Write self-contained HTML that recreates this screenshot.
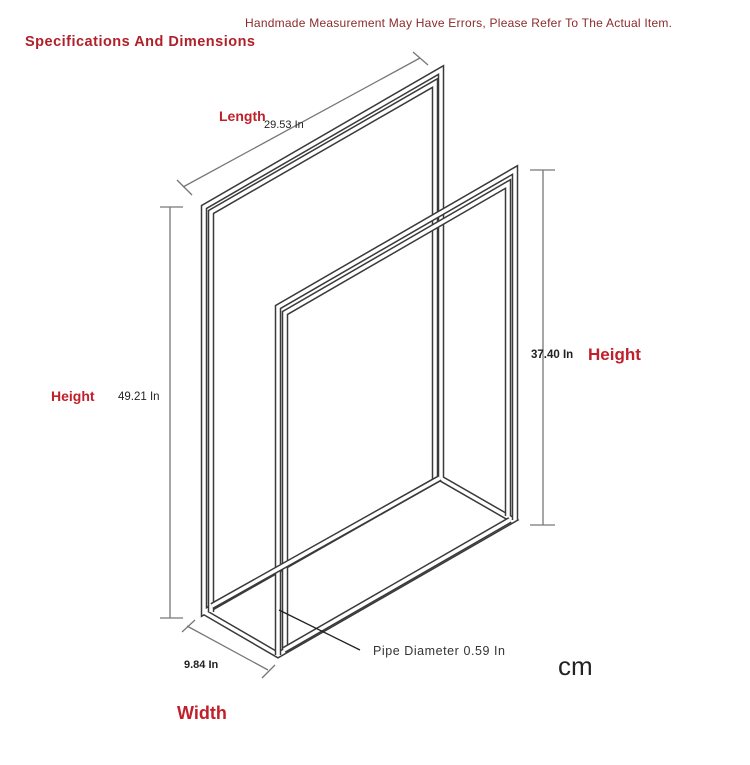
<!DOCTYPE html>
<html><head><style>
body{margin:0;width:750px;height:765px;background:#fff;overflow:hidden;font-family:"Liberation Sans",sans-serif}
</style></head><body>
<svg width="750" height="765" xmlns="http://www.w3.org/2000/svg" style="position:absolute;left:0;top:0">
<g fill="none" stroke-linejoin="miter">
 <g stroke="#3a3a3a" stroke-width="6.5">
  <polyline points="204,612 278,655 513,520 440,478 204,612 204,207 441,70 441,478"/>
 </g>
 <g stroke="#fff" stroke-width="3.5">
  <polyline points="204,612 278,655 513,520 440,478 204,612 204,207 441,70 441,478"/>
 </g>
 <g stroke="#3a3a3a" stroke-width="6.5">
  <polyline points="211,612 211,212 435,83 435,480"/>
 </g>
 <g stroke="#fff" stroke-width="3.5">
  <polyline points="211,612 211,212 435,83 435,480"/>
 </g>
 <g stroke="#3a3a3a" stroke-width="6.5">
  <polyline points="278,655 278,307 515,170 515,520"/>
 </g>
 <g stroke="#fff" stroke-width="3.5">
  <polyline points="278,655 278,307 515,170 515,520"/>
 </g>
 <g stroke="#3a3a3a" stroke-width="6.5">
  <polyline points="285,650 285,313 508,184 508,516"/>
 </g>
 <g stroke="#fff" stroke-width="3.5">
  <polyline points="285,650 285,313 508,184 508,516"/>
 </g>
 <g stroke="#3a3a3a" stroke-width="6.5">
  <polyline points="212,606 440,478"/>
  <polyline points="284,650 510,520"/>
 </g>
 <g stroke="#fff" stroke-width="3.5">
  <polyline points="212,606 440,478"/>
  <polyline points="284,650 510,520"/>
 </g>
 <g stroke="#777" stroke-width="1.3">
  <line x1="170" y1="207" x2="170" y2="618"/>
  <line x1="160" y1="207" x2="183" y2="207"/>
  <line x1="160" y1="618" x2="183" y2="618"/>
  <line x1="543" y1="170" x2="543" y2="525"/>
  <line x1="530" y1="170" x2="555" y2="170"/>
  <line x1="530" y1="525" x2="555" y2="525"/>
  <line x1="183" y1="187" x2="420" y2="58"/>
  <line x1="177" y1="180" x2="192" y2="195"/>
  <line x1="413" y1="52" x2="428" y2="65"/>
  <line x1="187" y1="626" x2="268" y2="670"/>
  <line x1="182" y1="632" x2="195" y2="620"/>
  <line x1="262" y1="678" x2="275" y2="665"/>
 </g>
 <line x1="279" y1="610" x2="360" y2="650" stroke="#222" stroke-width="1.3"/>
</g>
<g font-family="Liberation Sans, sans-serif">
 <text x="245" y="27" font-size="12" fill="#8b2a2a" textLength="427">Handmade Measurement May Have Errors, Please Refer To The Actual Item.</text>
 <text x="25" y="46" font-size="14.5" font-weight="bold" fill="#b0202a" textLength="230">Specifications And Dimensions</text>
 <text x="219" y="121" font-size="14" font-weight="bold" fill="#c0202a">Length</text>
 <text x="264" y="128" font-size="11" fill="#222">29.53 In</text>
 <text x="51" y="401" font-size="14" font-weight="bold" fill="#c0202a">Height</text>
 <text x="118" y="400" font-size="11.5" fill="#222">49.21 In</text>
 <text x="531" y="358" font-size="11.5" font-weight="bold" fill="#222">37.40 In</text>
 <text x="588" y="360" font-size="17" font-weight="bold" fill="#c0202a">Height</text>
 <text x="184" y="668" font-size="11" font-weight="bold" fill="#222">9.84 In</text>
 <text x="373" y="655" font-size="12.5" fill="#333" textLength="132">Pipe Diameter 0.59 In</text>
 <text x="558" y="675" font-size="26" fill="#222">cm</text>
 <text x="177" y="719" font-size="18" font-weight="bold" fill="#c0202a">Width</text>
</g>
</svg>
</body></html>
